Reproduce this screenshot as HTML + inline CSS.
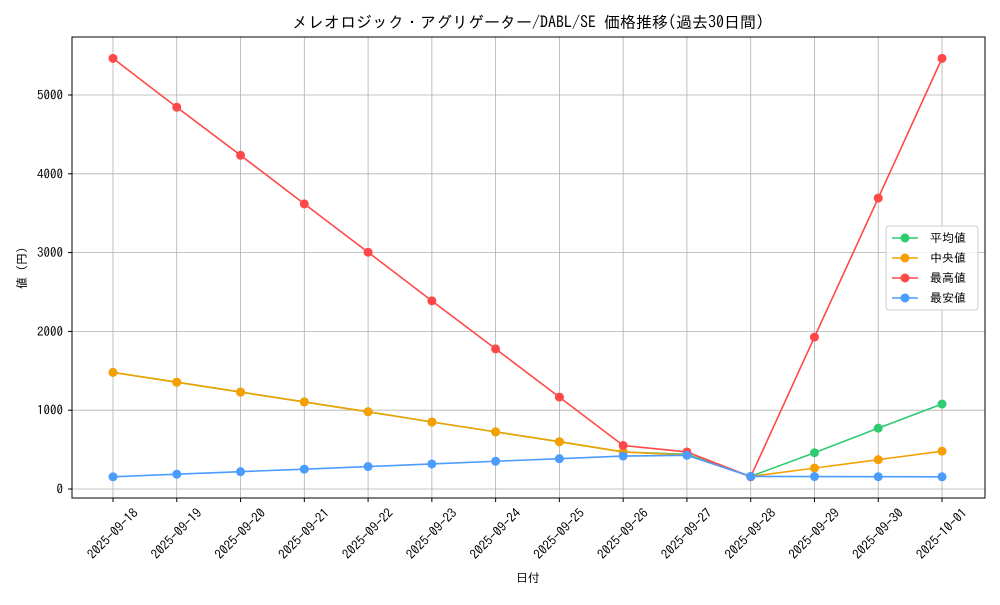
<!DOCTYPE html>
<html><head><meta charset="utf-8"><style>
body{margin:0;background:#fff}
svg text{font-family:"IPAGothic","Noto Sans CJK JP",monospace;fill:#000}
</style></head><body>
<svg width="1000" height="600" viewBox="0 0 1000 600" xmlns="http://www.w3.org/2000/svg">
<rect width="1000" height="600" fill="#fff"/>
<text x="528" y="28" font-size="16" text-anchor="middle">メレオロジック・アグリゲーター/DABL/SE 価格推移(過去30日間)</text>
<g id="grid" stroke="#b0b0b0" stroke-width="0.8"></g>
<rect x="72" y="37" width="913" height="461" fill="none" stroke="#000" stroke-width="1"/>
<g id="ticks"></g>
<text x="528" y="582" font-size="12" text-anchor="middle">日付</text>
<text x="26" y="268" font-size="12" text-anchor="middle" transform="rotate(-90 26 268)">値 (円)</text>
<g id="series"></g>
<g>
<rect x="886" y="226" width="92" height="84" rx="3" fill="#fff" fill-opacity="0.8" stroke="#ccc"/>
<line x1="892" y1="238" x2="918" y2="238" stroke="#2ecc71" stroke-width="1.5"/><circle cx="905" cy="238" r="4.5" fill="#2ecc71"/><text x="930" y="242" font-size="12">平均値</text>
<line x1="892" y1="258" x2="918" y2="258" stroke="#f5a000" stroke-width="1.5"/><circle cx="905" cy="258" r="4.5" fill="#f5a000"/><text x="930" y="262" font-size="12">中央値</text>
<line x1="892" y1="278" x2="918" y2="278" stroke="#ff4848" stroke-width="1.5"/><circle cx="905" cy="278" r="4.5" fill="#ff4848"/><text x="930" y="282" font-size="12">最高値</text>
<line x1="892" y1="298" x2="918" y2="298" stroke="#4a9cff" stroke-width="1.5"/><circle cx="905" cy="298" r="4.5" fill="#4a9cff"/><text x="930" y="302" font-size="12">最安値</text>
</g>
</svg>
<script>
const ns="http://www.w3.org/2000/svg";
function el(p,t,a,txt){const e=document.createElementNS(ns,t);for(const k in a)e.setAttribute(k,a[k]);if(txt)e.textContent=txt;document.getElementById(p).appendChild(e);return e;}
const X=i=>113+i*63.77, Y=v=>489-v*0.0788;
const dates=["2025-09-18","2025-09-19","2025-09-20","2025-09-21","2025-09-22","2025-09-23","2025-09-24","2025-09-25","2025-09-26","2025-09-27","2025-09-28","2025-09-29","2025-09-30","2025-10-01"];
dates.forEach((d,i)=>{const x=X(i);el("grid","line",{x1:x,y1:37,x2:x,y2:498});
el("ticks","line",{x1:x,y1:498,x2:x,y2:502,stroke:"#000"});
el("ticks","text",{x:x,y:538,"font-size":13,"text-anchor":"middle",transform:`rotate(-45 ${x} 534)`},d);});
[0,1000,2000,3000,4000,5000].forEach(v=>{const y=Y(v);el("grid","line",{x1:72,y1:y,x2:985,y2:y});
el("ticks","line",{x1:68,y1:y,x2:72,y2:y,stroke:"#000"});
el("ticks","text",{x:63,y:y+4.5,"font-size":13,"text-anchor":"end"},String(v));});
const S=[
["#2ecc71",[1480,1355,1230,1105,980,850,725,600,470,440,160,460,772,1078]],
["#f5a000",[1480,1355,1230,1105,980,850,725,600,470,430,160,265,372,480]],
["#ff4848",[5465,4845,4235,3618,3005,2388,1778,1166,552,470,155,1928,3692,5465]],
["#4a9cff",[155,188,220,252,285,318,352,385,418,428,160,158,156,155]]];
S.forEach(([c,d])=>{el("series","polyline",{points:d.map((v,i)=>X(i)+","+Y(v)).join(" "),fill:"none",stroke:c,"stroke-width":1.6});
d.forEach((v,i)=>el("series","circle",{cx:X(i),cy:Y(v),r:4.5,fill:c}));});
</script>
</body></html>
